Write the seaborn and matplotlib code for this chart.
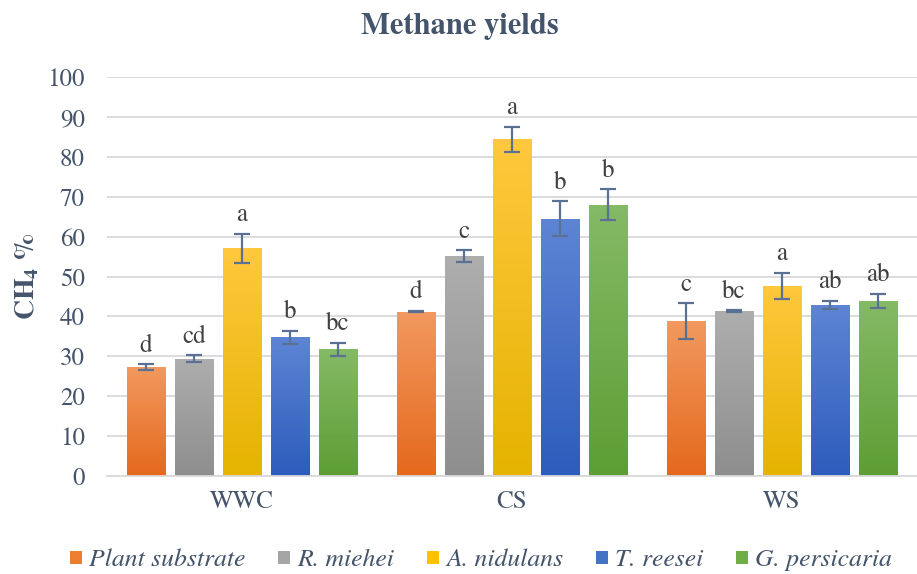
import numpy as np
import pandas as pd
import seaborn as sns
import matplotlib.pyplot as plt
from matplotlib.patches import Patch
from matplotlib.colors import to_rgb

# Methane yields per substrate and pretreatment
substrates = ['WWC', 'CS', 'WS']
treatments = ['Plant substrate', 'R. miehei', 'A. nidulans', 'T. reesei', 'G. persicaria']

plant_vals = [27.3, 41.2, 38.8]
miehei_vals = [29.4, 55.1, 41.4]
nidulans_vals = [57.1, 84.4, 47.7]
reesei_vals = [34.8, 64.5, 42.9]
persicaria_vals = [31.8, 68.0, 43.9]

plant_err = [0.7, 0.2, 4.5]
miehei_err = [0.9, 1.5, 0.2]
nidulans_err = [3.6, 3.1, 3.3]
reesei_err = [1.6, 4.3, 1.0]
persicaria_err = [1.6, 3.9, 1.75]

plant_let = ['d', 'd', 'c']
miehei_let = ['cd', 'c', 'bc']
nidulans_let = ['a', 'a', 'a']
reesei_let = ['b', 'b', 'ab']
persicaria_let = ['bc', 'b', 'ab']

vals = [plant_vals, miehei_vals, nidulans_vals, reesei_vals, persicaria_vals]
errs = [plant_err, miehei_err, nidulans_err, reesei_err, persicaria_err]
lets = [plant_let, miehei_let, nidulans_let, reesei_let, persicaria_let]

df = pd.DataFrame({
    'substrate': substrates * len(treatments),
    'treatment': np.repeat(treatments, len(substrates)),
    'ch4': np.concatenate(vals),
})

# (top, bottom) colours for the gradient fill
grad = {
    'Plant substrate': ('#F2995F', '#E4691C'),
    'R. miehei': ('#AEAEAE', '#8E8E8E'),
    'A. nidulans': ('#FFC83E', '#E5B300'),
    'T. reesei': ('#5E85D4', '#2D5CBC'),
    'G. persicaria': ('#85BA66', '#5D9E34'),
}
solid = {'Plant substrate': '#ED7D31', 'R. miehei': '#A5A5A5', 'A. nidulans': '#FFC000',
         'T. reesei': '#4472C4', 'G. persicaria': '#70AD47'}

txt = '#44546A'
sns.set_theme(style='white')
plt.rcParams['font.family'] = ['TeX Gyre Termes', 'Liberation Serif', 'DejaVu Serif']
plt.rcParams['mathtext.fontset'] = 'custom'
plt.rcParams['mathtext.bf'] = 'TeX Gyre Termes:bold'
plt.rcParams['mathtext.rm'] = 'TeX Gyre Termes'

fig = plt.figure(figsize=(9.17, 5.74), dpi=100)
ax = fig.add_axes([107 / 917, 1 - 476 / 574, 810 / 917, 399 / 574])

sns.barplot(data=df, x='substrate', y='ch4', hue='treatment', hue_order=treatments,
            order=substrates, palette=solid, width=0.889, gap=0.19, errorbar=None,
            legend=False, ax=ax, zorder=2)

ax.set_ylim(0, 100)
ax.set_xlim(-0.5, 2.5)
ax.set_yticks(range(0, 101, 10))
ax.yaxis.grid(True, color='#D9D9D9', linewidth=1.3, zorder=0)
ax.set_axisbelow(True)
for s in ['top', 'right', 'left']:
    ax.spines[s].set_visible(False)
ax.spines['bottom'].set_color('#D9D9D9')
ax.spines['bottom'].set_linewidth(1.3)
ax.tick_params(axis='y', length=0, pad=16, labelsize=18, labelcolor=txt)
ax.tick_params(axis='x', length=0, pad=10, labelsize=18, labelcolor=txt)
ax.set_xlabel('')
ax.set_ylabel(r'CH$_\mathbf{4}$ %', fontsize=20, fontweight='bold', color=txt)
ax.yaxis.set_label_coords(-0.082, 0.5)

# gradient fill, error bars and letters
for i, (cont, t) in enumerate(zip(ax.containers, treatments)):
    top, bot = to_rgb(grad[t][0]), to_rgb(grad[t][1])
    img = np.linspace(np.array(top), np.array(bot), 256).reshape(256, 1, 3)
    for j, bar in enumerate(cont):
        x0, w, h = bar.get_x(), bar.get_width(), bar.get_height()
        im = ax.imshow(img, extent=[x0, x0 + w, 0, h], aspect='auto', zorder=2,
                       interpolation='bilinear')
        im.set_clip_path(bar)
        bar.set_facecolor('none')
        bar.set_edgecolor('none')
        xc = x0 + w / 2
        ax.errorbar(xc, h, yerr=errs[i][j], color='#5A7194', capsize=6,
                    elinewidth=1.6, capthick=1.6, zorder=3)
        ax.annotate(lets[i][j], (xc, h + errs[i][j]), xytext=(0, 9),
                    textcoords='offset points', ha='center', va='baseline',
                    fontsize=18, color='#404040')

ax.set_aspect('auto')
ax.set_xlim(-0.5, 2.5)
ax.set_ylim(0, 100)

fig.text(460 / 917, 1 - 27 / 574, 'Methane yields', ha='center', va='center',
         fontsize=22, fontweight='bold', color=txt)

handles = [Patch(facecolor=solid[t], edgecolor='none') for t in treatments]
leg = fig.legend(handles, treatments, loc='center', bbox_to_anchor=(481 / 917, 1 - 560 / 574),
                 ncol=5, frameon=False, handlelength=0.47, handleheight=0.4,
                 handletextpad=0.27, columnspacing=1.28,
                 prop={'family': 'TeX Gyre Termes', 'style': 'italic', 'size': 18.5})
for tx in leg.get_texts():
    tx.set_color(txt)

fig.savefig('out.png', dpi=100)
